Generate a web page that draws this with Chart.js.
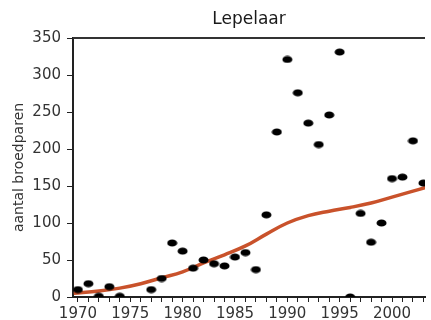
<!DOCTYPE html>
<html>
<head>
<meta charset="utf-8">
<script src="https://cdn.jsdelivr.net/npm/chart.js@4/dist/chart.umd.min.js"></script>
<style>
  html, body { margin: 0; padding: 0; background: #fff; }
  #wrap { width: 431px; height: 320px; }
</style>
</head>
<body>
<div id="wrap"><canvas id="chart-lepelaar"></canvas></div>
<script>
const years = [1970, 1971, 1972, 1973, 1974, 1977, 1978, 1979, 1980, 1981, 1982, 1983, 1984, 1985, 1986, 1987, 1988, 1989, 1990, 1991, 1992, 1993, 1994, 1995, 1996, 1997, 1998, 1999, 2000, 2001, 2002, 2003];
const pairs = [10, 18, 1, 14, 1, 10, 25, 73, 62, 39, 50, 45, 42, 54, 60, 37, 111, 223, 321, 276, 235, 206, 246, 331, 0, 113, 74, 100, 160, 162, 211, 154];

const trendYears = [1969.6, 1972, 1974, 1976, 1978, 1980, 1982, 1984, 1986, 1988, 1990, 1992, 1994, 1996, 1998, 2000, 2002, 2003.2];
const trendValues = [5, 8, 12, 18, 26, 34, 46, 57, 69, 85, 100, 110, 116, 121, 127, 135, 143, 148];

const yTicks = [0, 50, 100, 150, 200, 250, 300, 350];

// slightly wide dots, like the original markers
const dot = document.createElement("canvas");
dot.width = 11;
dot.height = 8;
(function () {
  const c = dot.getContext("2d");
  c.fillStyle = "#000";
  c.beginPath();
  c.ellipse(5.5, 4, 5, 3.6, 0, 0, Math.PI * 2);
  c.fill();
})();

const topLine = {
  id: "topLine",
  beforeDatasetsDraw(chart) {
    const a = chart.chartArea;
    const ctx = chart.ctx;
    ctx.save();
    ctx.strokeStyle = "#333";
    ctx.lineWidth = 2;
    ctx.beginPath();
    ctx.moveTo(a.left, a.top);
    ctx.lineTo(a.right, a.top);
    ctx.stroke();
    ctx.restore();
  },
};

const font = "'DejaVu Sans', sans-serif";

new Chart(document.getElementById("chart-lepelaar"), {
  type: "scatter",
  data: {
    datasets: [
      {
        label: "broedparen",
        data: years.map((y, i) => ({ x: y, y: pairs[i] })),
        pointStyle: dot,
        pointRadius: 5,
        order: 0,
      },
      {
        type: "line",
        label: "trend",
        data: trendYears.map((y, i) => ({ x: y, y: trendValues[i] })),
        borderColor: "#c9522b",
        borderWidth: 3.5,
        pointRadius: 0,
        tension: 0.4,
        fill: false,
        order: 1,
      },
    ],
  },
  options: {
    responsive: true,
    maintainAspectRatio: false,
    animation: false,
    layout: { padding: 0 },
    plugins: {
      legend: { display: false },
      tooltip: { enabled: false },
      title: {
        display: true,
        text: "Lepelaar",
        fullSize: false,
        color: "#1a1a1a",
        font: { family: font, size: 17, weight: "normal" },
        padding: { top: 9, bottom: 8.6 },
      },
    },
    scales: {
      x: {
        type: "linear",
        min: 1969.53,
        max: 2003.15,
        afterFit(axis) { axis.height = 23; },
        border: { color: "#222", width: 2 },
        grid: { drawOnChartArea: false, drawTicks: true, tickLength: 5, color: "#222" },
        ticks: {
          stepSize: 1,
          includeBounds: false,
          autoSkip: false,
          maxRotation: 0,
          padding: 3,
          color: "#333",
          font: { family: font, size: 15 },
          callback: (v) => (v % 5 === 0 ? String(v) : ""),
        },
      },
      y: {
        min: 0,
        max: 350,
        afterFit(axis) { axis.width = 73; },
        afterBuildTicks(axis) { axis.ticks = yTicks.map((v) => ({ value: v })); },
        border: { color: "#222", width: 2 },
        grid: { drawOnChartArea: false, drawTicks: true, tickLength: 6, color: "#222" },
        ticks: {
          padding: 6,
          color: "#333",
          font: { family: font, size: 15 },
        },
        title: {
          display: true,
          text: "aantal broedparen",
          color: "#333",
          font: { family: font, size: 14 },
          padding: { top: 11, bottom: 0 },
        },
      },
    },
  },
  plugins: [topLine],
});
</script>
</body>
</html>
